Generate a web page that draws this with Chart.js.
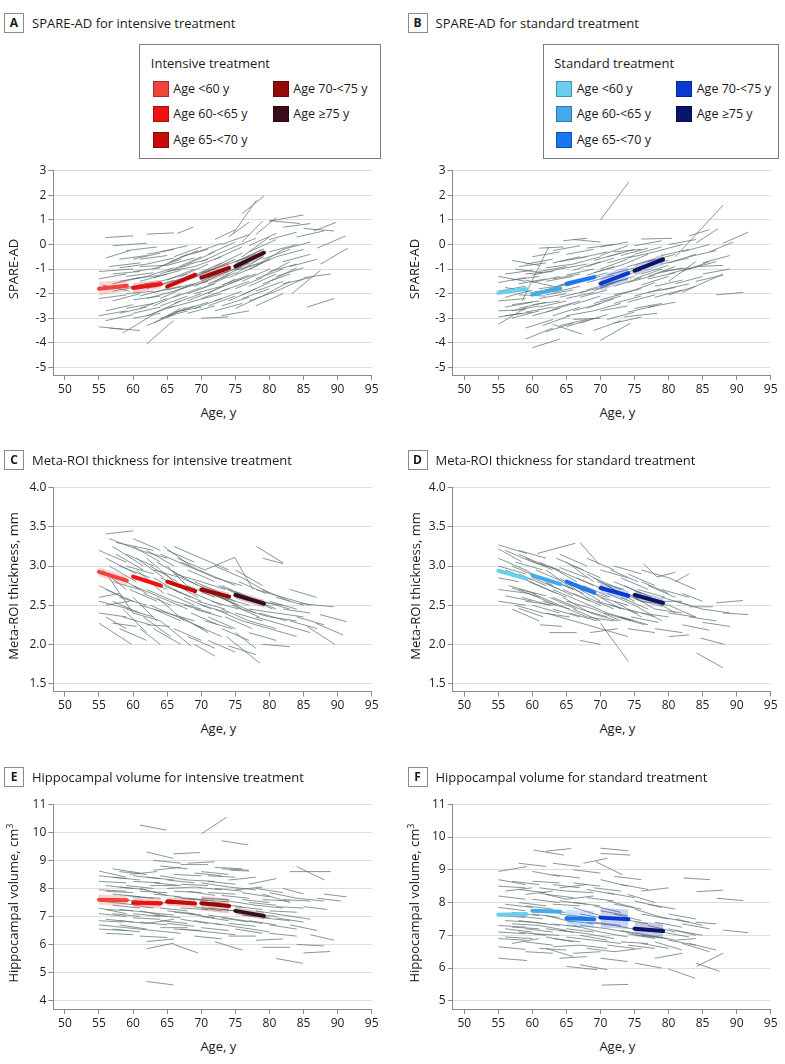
<!DOCTYPE html>
<html><head><meta charset="utf-8">
<script src="https://cdn.jsdelivr.net/npm/chart.js@4.4.0/dist/chart.umd.min.js"></script>
<style>
body{margin:0;background:#fff;}
#page{position:relative;width:785px;height:1064px;overflow:hidden;font-family:'Open Sans',sans-serif;color:#1a1a1a;}
canvas{position:absolute;z-index:1;}
.ptitle{position:absolute;font-size:13px;line-height:20px;white-space:nowrap;z-index:2;}
.pbox{position:absolute;width:18px;height:18px;border:1px solid #8a8a8a;font-weight:bold;font-size:12px;line-height:18px;text-align:center;z-index:2;}
.legend{position:absolute;border:1px solid #7a7a7a;box-sizing:border-box;background:#fff;z-index:3;}
.ltitle{position:absolute;font-size:13px;line-height:18px;white-space:nowrap;}
.sw{position:absolute;width:16px;height:16px;box-sizing:border-box;border:1px solid rgba(0,0,0,0.3);}
.ltxt{position:absolute;font-size:12.5px;line-height:16px;white-space:nowrap;}
.ytitle{position:absolute;width:240px;text-align:center;font-size:13px;line-height:16px;transform:rotate(-90deg);white-space:nowrap;z-index:2;}
.xtitle{position:absolute;width:120px;text-align:center;font-size:13px;line-height:16px;white-space:nowrap;z-index:2;}
</style></head>
<body><div id="page"></div>
<script>
// ---------- data ----------
const ageTicks=[50,55,60,65,70,75,80,85,90,95];
const spareTicks=[-5,-4,-3,-2,-1,0,1,2,3];
const thickTicks=[1.5,2.0,2.5,3.0,3.5,4.0];
const hippoTicksE=[4,5,6,7,8,9,10,11];
const hippoTicksF=[5,6,7,8,9,10,11];
const groupLabels=['Age <60 y','Age 60-<65 y','Age 65-<70 y','Age 70-<75 y','Age \u226575 y'];
const groupAges=[[55,59.1],[60,64.1],[65,69.1],[70,74.1],[75,79.2]];
const intensiveColors=['#f0443c','#f01212','#c80a0a','#940a0a','#3c0d18'];
const standardColors=['#6acfef','#44aaee','#1a76f2','#0a3ad0','#08156a'];

// fitted group lines [start value, end value] and CI half-widths [start, end]
const fitA=[[-1.8,-1.68],[-1.77,-1.61],[-1.71,-1.24],[-1.35,-0.95],[-0.89,-0.34]];
const ciA=[[0.28,0.22],[0.2,0.17],[0.12,0.12],[0.25,0.25],[0.18,0.2]];
const fitB=[[-1.97,-1.81],[-2.04,-1.78],[-1.6,-1.33],[-1.59,-1.17],[-1.06,-0.61]];
const ciB=[[0.08,0.08],[0.08,0.08],[0.1,0.1],[0.3,0.3],[0.22,0.22]];
const fitC=[[2.925,2.814],[2.865,2.75],[2.80,2.68],[2.70,2.61],[2.63,2.52]];
const ciC=[[0.06,0.06],[0.03,0.03],[0.03,0.03],[0.05,0.05],[0.05,0.05]];
const fitD=[[2.94,2.84],[2.88,2.77],[2.80,2.66],[2.72,2.62],[2.63,2.53]];
const ciD=[[0.02,0.02],[0.02,0.02],[0.03,0.03],[0.06,0.06],[0.06,0.06]];
const fitE=[[7.6,7.58],[7.49,7.47],[7.53,7.46],[7.47,7.37],[7.20,7.02]];
const ciE=[[0.18,0.18],[0.18,0.18],[0.15,0.15],[0.26,0.26],[0.13,0.13]];
const fitF=[[7.63,7.65],[7.75,7.72],[7.52,7.49],[7.54,7.49],[7.20,7.13]];
const ciF=[[0.05,0.05],[0.05,0.05],[0.25,0.25],[0.3,0.3],[0.23,0.23]];

// individual trajectories [age1, value1, age2, value2]
const segA=[[56,0.28,60,0.35],[62,0.42,66,0.47],[66.5,0.45,68.8,0.7],[57,-0.05,62,0.05],[56,-0.55,59.5,-0.25],[59,-0.25,63.5,-0.1],
[56.5,-0.9,61,-0.75],[55,-1.1,60,-1.0],[58,-0.6,62,-0.45],[62,-0.8,66,-0.55],[64,-0.3,68,-0.05],[65.5,-0.7,69.5,-0.25],[67,-0.5,71,-0.2],
[55,-2.9,59,-2.7],[55,-3.35,58.5,-3.45],[56.5,-3.4,61,-3.5],[62,-4.05,65.9,-3.1],[58.5,-3.6,63,-2.85],[56,-2.7,60,-2.45],[57,-2.3,61,-2.0],
[60,-3.0,64,-2.8],[63,-3.2,67,-2.6],[65,-2.9,69,-2.5],[70,-3.0,74,-2.95],[73,-2.9,77,-2.7],[65,-2.97,67.8,-2.56],[59,-2.6,63,-2.4],[60,-2.25,64,-2.1],
[74.7,0.45,78.1,1.8],[76,1.25,79.2,1.97],[80,0.95,85,1.2],[80,0.97,84.5,0.85],[82,0.7,86,0.85],[85,0.65,89.5,0.55],[86.5,0.55,89.8,0.9],
[87,-0.15,91.2,0.35],[83.3,-2.0,87.5,-1.05],[85,-1.35,89,-1.2],[85.5,-2.55,89.5,-2.2],[87.5,-0.8,91.5,-0.15],[84,0.3,88,0.55],[82,-0.7,86,-0.4],
[80,-1.5,84,-0.95],[78,-0.9,82,-0.2],[76,-0.5,80,0.3],[73,0.0,77,0.4],[71,-0.4,75,0.1],[75,-1.2,79,-0.5],[77,-1.7,81,-1.2],[79,-2.1,83,-1.5],
[76,-2.2,80,-1.8],[72,-2.3,76,-1.9],[74,-1.6,78,-1.2],[70,-1.8,74,-1.3],[68,-2.0,72,-1.6],[66,-1.9,70,-1.5],[64,-1.5,68,-1.2],[62,-1.8,66,-1.45],
[60,-1.4,64,-1.25],[61,-2.1,65,-1.8],[63,-2.5,67,-2.0],[66,-2.4,70,-2.0],[69,-2.6,73,-2.2],[71,-1.1,75,-0.6],[69,-0.9,73,-0.5],[67,-1.3,71,-0.8],
[65,-1.1,69,-0.9],[63,-1.0,67,-0.6],[61,-0.9,65,-0.85],[58,-1.5,62,-1.3],[57,-1.9,61,-1.7],[59,-2.0,63,-1.9],[64,-2.2,68,-1.7],[67,-1.5,71,-1.1],
[70,-0.7,74,-0.2],[72,-1.5,76,-0.9],[74,-0.8,78,-0.4],[77,-0.3,81,0.2],[79,-1.3,83,-0.7],[81,-1.9,85,-1.4],[78,-2.5,82,-2.0],[75,-2.6,79,-2.1],
[73,-1.9,77,-1.5],[71,-2.0,75,-1.4],[69,-1.7,73,-1.2],[68,-0.8,72,-0.3],[66,-0.5,70,-0.1],[64,-0.9,68,-0.4],[62,-1.3,66,-0.95],[60,-1.7,64,-1.5],
[57,-1.2,61,-1.1],[63,-1.75,67,-1.4],[65,-2.6,69,-2.3],[62,-2.9,66,-2.5],[72,-0.9,76,-0.35],[76,-1.0,80,-0.6],[80,0.2,84,0.5],[81,-0.5,85,-0.2],
[69,-2.3,73,-2.0],[74,-2.3,78,-1.8],[66,-1.0,70,-0.5],[70,-1.5,74,-1.0],
[55,-1.4,59,-1.2],[55,-2.2,59,-2.05],[55.5,-1.65,59.5,-1.9],[56,-3.1,60,-2.85],[57,-1.6,61,-1.35],[58,-2.8,62,-2.55],[58,-0.95,62,-0.8],
[59,-1.75,63,-1.55],[60,-0.6,64,-0.35],[60,-1.1,64,-0.95],[61,-2.6,65,-2.2],[61,-1.5,65,-1.2],[62,-2.2,66,-1.9],[62,-0.4,66,-0.2],[63,-1.95,67,-1.7],
[63,-2.8,67,-2.3],[64,-1.2,68,-0.85],[64,-2.5,68,-2.1],[65,-1.45,69,-1.0],[65,-0.85,69,-0.55],[66,-2.15,70,-1.75],[66,-1.6,70,-1.25],[67,-2.7,71,-2.35],
[67,-0.9,71,-0.6],[68,-1.4,72,-1.0],[68,-2.3,72,-1.85],[69,-1.25,73,-0.75],[69,-0.35,73,0.05],[70,-2.2,74,-1.8],[70,-1.15,74,-0.8],[71,-2.5,75,-2.1],
[71,-1.6,75,-1.15],[72,-0.6,76,-0.1],[72,-1.85,76,-1.4],[73,-1.2,77,-0.75],[73,-2.5,77,-2.15],[74,-0.2,78,0.25],[74,-1.35,78,-0.9],[75,-1.8,79,-1.35],
[75,-0.7,79,-0.2],[76,-1.5,80,-1.0],[76,-2.05,80,-1.55],[77,-1.0,81,-0.5],[77,-0.05,81,0.45],[78,-1.4,82,-1.0],[78,-1.9,82,-1.5],[79,-0.6,83,-0.2],
[79,-1.6,83,-1.2],[80,-1.1,84,-0.8],[80,-0.3,84,0.0],[81,-1.3,85,-0.95],[82,-0.2,86,0.1],[82,-1.6,86,-1.35],[83,-0.9,87,-0.6],[60,-2.8,64,-2.55],
[62,-3.3,66,-2.85],[64,-3.0,68,-2.7],[66,-2.75,70,-2.55],[68,-2.8,72,-2.5],[72,-2.7,76,-2.4],[59,-1.3,63,-1.15],[61,-0.6,65,-0.45],[63,-1.35,67,-1.05],
[65,-1.85,69,-1.6],[67,-1.8,71,-1.5],[69,-2.0,73,-1.7],[71,-1.35,75,-1.0],[73,-1.65,77,-1.25],[75,-1.05,79,-0.75],[77,-2.3,81,-1.9],[74,0.3,77,0.9],
[76,0.1,79,0.95],[78,0.4,81,1.1],[72,0.2,75,0.6]];
const segB=[[70,1.0,74.2,2.55],[81,-0.5,88,1.6],[84,0.05,87.3,0.65],[88,0.05,91.7,0.5],[87,-2.05,91,-1.95],[82,-1.95,88,-1.2],[76,0.22,80.5,0.25],
[80,0.0,84,0.2],[83,-0.5,87,-0.25],[84,-0.9,88,-0.85],[82,-1.1,86,-0.7],[85,-0.75,89,-0.45],[79,-0.8,83,-0.55],[77,-1.3,81,-0.9],[78,-1.7,82,-1.45],
[80,-1.5,84,-0.7],[74,-0.55,78,-0.3],[72,-0.3,76,-0.2],[70,-0.45,74,-0.05],[68,-0.15,72,0.0],[66,0.2,70,0.1],[64.5,0.15,68,0.25],[61,-0.15,64.6,-0.1],
[63,-0.25,67,-0.05],[58.5,-2.3,62.4,-0.1],[57,-0.65,61,-0.85],[55,-1.3,59,-1.5],[55,-1.55,59,-1.35],[56,-1.75,60,-1.95],[55,-2.7,59,-2.65],
[55,-3.25,59.2,-2.55],[55,-2.95,58.5,-2.8],[57,-2.45,61,-2.3],[59,-1.2,63,-1.1],[60,-1.55,64,-1.3],[62,-1.85,66,-1.5],[61,-2.2,65,-2.0],
[63,-2.6,67,-2.3],[60,-2.9,64,-2.6],[61.5,-3.3,65.5,-2.9],[60,-4.2,64,-3.85],[59,-3.85,63,-3.4],[63,-3.25,67.3,-3.65],[65,-2.9,69,-2.7],
[66,-3.05,70,-3.0],[70,-3.9,74.4,-3.2],[68,-2.6,72,-2.2],[70,-2.7,74,-2.5],[73.4,-2.95,78.3,-2.8],[75,-2.6,79,-2.4],[77,-2.55,81,-2.35],
[72,-2.05,76,-1.8],[74,-1.95,78,-1.55],[67,-1.95,71,-1.7],[65,-1.7,69,-1.35],[66,-1.05,70,-0.7],[68,-1.25,72,-0.9],[70,-1.0,74,-0.6],
[72,-1.4,76,-1.05],[64,-0.7,68,-0.5],[62,-0.95,66,-0.8],[59,-0.8,63,-0.6],[57.5,-1.0,61.5,-1.15],[63,-1.4,67,-1.2],[69,-1.9,73,-1.45],
[71,-1.6,75,-1.3],[75,-1.4,79,-1.0],[76,-0.9,80,-0.65],[78,-0.3,82,0.0],[73,-0.85,77,-0.4],[67,-0.55,71,-0.3],[61,-1.8,65,-1.65],[58,-2.05,62,-2.1],
[64,-2.15,68,-1.9],[66,-2.45,70,-2.1],[69,-2.4,73,-2.1],[71,-3.05,75,-2.75],[64,-3.3,68,-3.05],[62,-2.75,66,-2.4],[57,-2.7,61,-2.5],[56,-2.15,60,-1.85],
[60,-2.45,64,-2.3],[77,-1.95,81,-1.75],[80,-2.05,84,-1.7],[85,-1.2,89,-1.0],[86,-0.3,89.5,0.1],[83,0.35,86,0.6],[79,-1.1,83,-0.95],[74,-2.35,78,-2.05],
[68,-1.55,72,-1.25],[58,-1.6,62,-1.4],[65,-0.4,69,-0.2],[71,-0.75,75,-0.45],
[55,-1.9,59,-1.7],[55,-2.3,59,-2.2],[56,-1.2,60,-1.05],[56,-2.55,60,-2.35],[57,-1.45,61,-1.3],[57,-3.0,61,-2.7],[58,-2.6,62,-2.35],[58,-0.9,62,-0.75],
[59,-1.45,63,-1.7],[59,-2.75,63,-2.55],[60,-1.95,64,-1.75],[60,-0.5,64,-0.3],[61,-1.1,65,-0.9],[61,-2.55,65,-2.3],[62,-2.05,66,-1.85],[62,-1.5,66,-1.3],
[63,-0.75,67,-0.5],[63,-2.9,67,-2.55],[64,-1.65,68,-1.4],[64,-1.0,68,-0.8],[65,-2.2,69,-1.95],[65,-1.25,69,-1.0],[66,-0.8,70,-0.5],[66,-2.7,70,-2.4],
[67,-1.45,71,-1.15],[67,-2.15,71,-1.85],[68,-0.9,72,-0.55],[68,-1.85,72,-1.55],[69,-1.15,73,-0.85],[69,-2.7,73,-2.4],[70,-1.7,74,-1.4],[70,-2.25,74,-1.95],
[71,-0.5,75,-0.2],[71,-1.25,75,-0.95],[72,-1.7,76,-1.35],[72,-2.4,76,-2.1],[73,-1.2,77,-0.9],[73,-0.45,77,-0.15],[74,-1.55,78,-1.25],[74,-0.9,78,-0.6],
[75,-2.1,79,-1.8],[75,-0.4,79,-0.1],[76,-1.2,80,-0.85],[76,-1.65,80,-1.3],[77,-0.7,81,-0.4],[78,-2.15,82,-1.85],[78,-1.2,82,-0.95],[79,-0.45,83,-0.2],
[80,-1.2,84,-0.9],[80,-0.75,84,-0.4],[81,-1.6,85,-1.3],[82,-0.3,86,0.0],[83,-1.0,87,-0.7],[84,-1.5,88,-1.25],[59,-3.4,63,-3.05],[62,-3.55,66,-3.2],
[65,-3.35,69,-3.0],[67,-3.2,71,-2.85],[72,-3.2,76,-2.95],[69,-3.5,73,-3.1],[56,-2.9,60,-2.75],[60,-1.25,64,-1.0],[63,-1.95,67,-1.7],[66,-1.55,70,-1.3],
[69,-0.65,73,-0.35],[74,-2.75,78,-2.5],[77,-1.4,81,-1.15],[79,-1.85,83,-1.6],[75,-0.05,79,0.15],[70,-0.1,74,0.1]];
const segC=[[56,3.41,60,3.45],[57.5,3.3,63,3.2],[56.5,3.35,61,3.2],[55,2.27,59.8,2.0],[57,2.27,60.5,2.23],[62,2.25,65.4,2.23],[73.7,2.1,78.6,1.76],
[74,1.98,78,1.87],[78.1,3.25,82,3.04],[79,3.1,82,3.03],[83,2.7,86.9,2.6],[84.5,2.52,89.4,2.48],[85.5,2.23,89.6,2.0],[87.4,2.38,91.3,2.29],
[86.8,2.27,90.8,2.12],[79,2.0,83,1.97],[55,2.75,58.5,2.6],[55.5,2.95,59,2.7],[56,3.1,60.5,2.9],[55,2.55,59.5,2.45],[56.5,2.85,60,2.4],[58,2.6,62,2.5],
[59,3.0,63,2.9],[60,3.25,64,3.05],[61,3.2,65,3.1],[62,3.1,66,2.8],[60,2.75,64,2.6],[61,2.5,65,2.4],[63,2.95,67,2.85],[64,3.15,68,3.0],[65,2.65,69,2.5],
[66,2.9,70,2.8],[67,3.05,71,2.9],[68,2.75,72,2.6],[69,2.45,73,2.35],[70.5,2.95,74.9,3.11],[74.9,3.11,77.6,2.7],[71,2.7,75,2.55],[72,2.85,76,2.75],
[73,2.45,77,2.3],[75,2.65,79,2.55],[76,2.45,80,2.35],[77,2.6,81,2.45],[78,2.35,82,2.25],[80,2.55,84,2.45],[81,2.4,85,2.35],[82,2.25,86,2.15],
[80,2.2,84,2.1],[57,2.8,61,2.7],[59,2.45,63,2.35],[62,2.7,66,2.55],[63,2.45,67,2.3],[64,2.85,68,2.7],[65,3.0,69,2.65],[66,2.55,70,2.45],[67,2.35,71,2.15],
[68,2.95,72,2.8],[69,2.65,73,2.5],[70,2.5,74,2.4],[71,2.35,75,2.2],[72,2.65,76,2.45],[73,2.75,77,2.6],[74,2.55,78,2.4],[76,2.85,80,2.65],[77,2.3,81,2.2],
[79,2.7,83,2.55],[60.5,2.95,64.5,2.65],[58,3.0,62.5,2.85],[57,3.25,61.5,3.0],[63.5,2.6,67.5,2.3],[65.5,2.8,69.5,2.6],[67.5,2.5,71.5,2.4],
[61.5,2.35,65.5,2.1],[64,2.3,68.5,1.98],[66,2.2,70,2.05],[69,2.25,73,2.1],[71,2.05,75,1.9],[62.5,3.0,66.5,2.8],[60,2.6,63.5,2.3],[58.5,2.45,62,2.15],
[55,2.6,58,2.65],[56,2.5,59.5,2.55],[75,2.95,79,2.75],[82,2.6,86,2.5],[84,2.35,88,2.25],[78,2.55,82,2.5],[64.5,3.25,68.5,3.0],[66.5,3.1,70.5,2.95],
[70,2.8,73.5,2.7],[71.5,2.55,75.5,2.45],
[55,3.2,59,3.05],[55,2.4,59,2.35],[56,2.7,60,2.55],[56.5,3.0,60.5,2.8],[57,2.55,61,2.4],[57.5,3.15,61.5,2.95],[58,2.85,62,2.65],[58.5,2.35,62.5,2.25],
[59,3.15,63,3.0],[59.5,2.7,63.5,2.55],[60,2.4,64,2.3],[60.5,3.1,64.5,2.85],[61,2.85,65,2.7],[61.5,2.65,65.5,2.5],[62,3.2,66,3.0],[62.5,2.5,66.5,2.35],
[63,2.85,67,2.65],[63.5,3.05,67.5,2.85],[64,2.6,68,2.45],[64.5,2.75,68.5,2.6],[65,2.4,69,2.3],[65.5,2.95,69.5,2.75],[66,2.7,70,2.55],[66.5,2.35,70.5,2.2],
[67,2.85,71,2.7],[67.5,2.6,71.5,2.45],[68,3.0,72,2.85],[68.5,2.4,72.5,2.25],[69,2.8,73,2.65],[69.5,2.55,73.5,2.45],[70,2.7,74,2.55],[70.5,2.3,74.5,2.2],
[71,2.9,75,2.75],[71.5,2.65,75.5,2.5],[72,2.45,76,2.3],[72.5,2.75,76.5,2.6],[73,2.6,77,2.5],[73.5,2.35,77.5,2.2],[74,2.7,78,2.55],[74.5,2.5,78.5,2.35],
[75,2.4,79,2.3],[75.5,2.8,79.5,2.65],[76,2.3,80,2.2],[76.5,2.6,80.5,2.45],[77,2.45,81,2.4],[78,2.7,82,2.6],[78.5,2.4,82.5,2.3],[79,2.55,83,2.45],
[80,2.35,84,2.3],[81,2.6,85,2.5],[82,2.45,86,2.4],[83,2.3,87,2.2],[58,2.2,62,2.05],[63,2.2,67,2.0],[68,2.1,72,1.95],[73,2.2,77,2.05],[77,2.15,81,2.05],
[60,3.35,64,3.2],[65,3.2,69,3.05],[70,3.1,74,2.95],[56,2.35,59,2.2],[66,3.25,70,3.1],[72,3.0,76,2.85],[61,2.2,64,2.0],[69,2.0,72,1.85],[75,2.15,78,1.95]];
const segD=[[55,3.27,59.2,3.16],[55,3.22,58.5,3.05],[60.7,3.16,66.3,3.29],[67,3.3,69.8,3.02],[70,2.27,74.1,1.78],[84.1,1.89,88,1.7],[88,2.4,91.7,2.38],
[87,2.53,90.9,2.56],[83,2.48,86.5,2.48],[85,2.28,89,2.23],[84.7,2.08,88.2,2.0],[82,2.25,86,2.18],[80,2.1,83,2.12],[61.1,2.25,64.3,2.23],
[62.5,2.15,66.5,2.15],[58,2.46,61.6,2.35],[76.3,3.03,78.3,2.86],[78.3,2.86,81,2.92],[55,3.0,59,2.9],[55,2.85,58,2.8],[55,2.7,59.5,2.65],
[56,2.62,60,2.55],[57,2.9,61,2.75],[58,3.15,62,3.0],[59,2.95,63,2.75],[59.5,2.65,63.5,2.5],[60,2.85,64,2.7],[61,3.05,65,2.9],[62,2.95,66,2.7],
[62.5,2.6,66.5,2.45],[63,2.45,67,2.35],[64,2.85,68,2.6],[65,3.05,69,2.8],[66,2.75,70,2.55],[67,2.55,71,2.4],[68,2.9,72,2.7],[69,2.65,73,2.45],
[70,2.95,74,2.85],[71,2.75,75,2.55],[72,2.55,76,2.35],[73,2.85,77,2.7],[74,2.65,78,2.45],[75,2.5,79,2.3],[76,2.8,80,2.65],[77,2.6,81,2.4],
[79,2.7,83,2.6],[80,2.5,84,2.35],[81,2.8,83,2.9],[57,2.72,61,2.6],[60,2.5,64,2.4],[63,2.7,67,2.55],[65,2.55,69,2.45],[66,2.45,70,2.3],
[68,2.35,72,2.3],[69,2.45,73,2.3],[71,2.4,75,2.3],[73,2.35,77,2.25],[58,2.7,62,2.62],[62,2.78,66,2.62],[64,2.98,68,2.85],[67,2.7,71,2.6],
[70,2.6,74,2.5],[72,2.8,76,2.65],[74,2.9,78,2.75],[66,3.0,70,2.85],[60,3.05,64,2.95],[56,2.95,60,2.82],[61.5,2.4,65.5,2.35],[74.5,2.35,78.5,2.28],
[76,2.55,80,2.5],[78,2.55,82,2.55],[82,2.65,85,2.55],[68.5,2.15,72.5,2.2],[64.5,2.6,68.5,2.4],[59,2.55,63,2.5],[63.5,3.1,67.5,2.95],
[71.5,2.95,75.5,2.8],[75.5,2.7,79.5,2.6],[69.5,2.8,73.5,2.7],[57.5,3.05,61.5,2.95],
[55,3.1,59,2.95],[55,2.55,59,2.5],[56,3.2,60,3.05],[56.5,2.75,60.5,2.65],[57,3.0,61,2.85],[57.5,2.5,61.5,2.4],[58,2.9,62,2.75],[58.5,2.6,62.5,2.5],
[59,3.1,63,2.95],[59.5,2.8,63.5,2.65],[60,2.65,64,2.5],[60.5,2.95,64.5,2.8],[61,2.75,65,2.6],[61.5,2.55,65.5,2.45],[62,2.85,66,2.7],[62.5,3.0,66.5,2.8],
[63,2.6,67,2.45],[63.5,2.8,67.5,2.65],[64,2.5,68,2.35],[64.5,2.7,68.5,2.55],[65,2.9,69,2.75],[65.5,2.4,69.5,2.3],[66,2.65,70,2.5],[66.5,2.85,70.5,2.7],
[67,2.45,71,2.35],[67.5,2.75,71.5,2.6],[68,2.6,72,2.45],[68.5,2.4,72.5,2.3],[69,2.85,73,2.7],[69.5,2.55,73.5,2.45],[70,2.75,74,2.6],[70.5,2.4,74.5,2.3],
[71,2.65,75,2.5],[71.5,2.5,75.5,2.4],[72,2.7,76,2.55],[72.5,2.35,76.5,2.25],[73,2.6,77,2.45],[73.5,2.75,77.5,2.6],[74,2.45,78,2.35],[75,2.65,79,2.55],
[76,2.4,80,2.35],[77,2.75,81,2.6],[78,2.45,82,2.4],[79,2.6,83,2.5],[80,2.4,84,2.35],[81,2.55,85,2.45],[83,2.35,87,2.3],[85,2.45,89,2.4],
[57,2.45,61,2.3],[62,2.4,66,2.3],[66,2.3,70,2.2],[70,2.2,74,2.1],[74,2.2,78,2.15],[78,2.2,82,2.15],[64,3.15,68,3.0],[68,3.1,72,2.95],[72,3.0,76,2.9],
[58,3.2,62,3.1],[67,2.05,70,2.0],[76,2.95,80,2.85],[80,2.85,84,2.7]];
const segE=[[61,10.26,64.9,10.08],[70,9.94,73.7,10.54],[73,9.7,76.9,9.55],[62,9.3,65.9,9.07],[65.9,9.23,69.8,9.28],[62,4.68,65.9,4.56],
[84,8.78,88.1,8.3],[83,8.6,89,8.6],[88,7.8,91.3,7.7],[87,7.65,90.5,7.55],[86,6.35,89.5,6.15],[81,5.5,84.9,5.33],[85,5.7,88.9,5.75],[79,5.9,83,5.9],
[84,6.0,88,5.95],[85,7.35,88.5,7.25],[55,8.62,59,8.4],[57,8.7,61,8.55],[55,8.25,59,8.2],[56,7.9,60,7.85],[55,7.3,59,7.1],[55,6.55,59,6.5],
[56,6.4,60,6.35],[55,6.85,58.5,6.8],[57,7.1,61,7.0],[58,8.05,62,7.95],[60,8.25,64,8.2],[61,8.0,65,7.75],[59,7.45,63,7.3],[60,6.95,64,6.9],
[62,6.75,66,6.9],[61,6.3,65,6.25],[62,6.1,66,6.2],[62,5.85,66,6.05],[63,8.65,67,8.75],[64,8.45,68,8.3],[65,8.0,69,8.05],[66,7.7,70,7.6],
[65,7.2,69,7.1],[67,6.9,71,6.75],[66,6.55,70,6.5],[66,6.0,69.5,5.7],[68,8.9,72,8.95],[69,8.55,73,8.45],[70,8.2,74,8.05],[71,7.85,75,7.8],
[69,7.35,73,7.2],[71,7.05,75,6.9],[70,6.6,74,6.5],[72,6.1,76,5.8],[72,6.75,76,6.6],[73,8.7,77,8.65],[74,8.3,78,8.4],[75,7.95,79,8.05],
[76,7.6,80,7.5],[74,7.55,78,7.4],[77,7.1,81,7.0],[76,6.6,80,6.45],[78,6.15,82,6.2],[77,8.15,81,8.35],[79,7.8,83,7.5],[80,7.2,84,7.15],
[80,6.7,84,6.55],[81,6.95,85,6.8],[82,7.6,86,7.55],[82,8.0,85,7.8],[58,6.7,62,6.55],[64,7.5,68,7.45],[63,7.05,67,6.95],[68,7.65,72,7.55],
[73,7.25,77,7.15],[67,8.15,71,8.1],[70,7.45,74,7.55],[75,6.9,79,6.75],[78,7.4,82,7.3],[57.5,7.6,61.5,7.55],[59.5,8.5,63.5,8.6],[62.5,8.1,66.5,8.1],
[64,6.6,68,6.6],[69,6.3,73,6.2],[74,6.3,78,6.3],[60,7.7,64,7.65],[67,7.3,71,7.25],[61,7.2,65,7.0],[71,8.45,75,8.4],[74.2,8.65,77,8.62],
[55,8.45,59,8.35],[55,7.95,59,7.9],[55,7.55,59,7.45],[55,7.1,59,7.0],[55,6.7,59,6.6],[56,8.1,60,8.0],[56,7.25,60,7.2],[56,6.9,60,6.8],[57,8.4,61,8.3],
[57,7.8,61,7.7],[57,7.4,61,7.3],[57,6.55,61,6.45],[58,8.6,62,8.5],[58,7.25,62,7.15],[58,6.85,62,6.75],[59,8.1,63,8.0],[59,7.75,63,7.65],[59,6.6,63,6.5],
[60,8.45,64,8.35],[60,7.45,64,7.4],[60,7.1,64,7.0],[61,7.9,65,7.85],[61,6.8,65,6.7],[62,8.4,66,8.3],[62,7.55,66,7.45],[62,7.15,66,7.05],[63,8.2,67,8.1],
[63,7.8,67,7.7],[63,6.5,67,6.4],[64,8.8,68,8.7],[64,7.3,68,7.2],[64,6.85,68,6.75],[65,8.3,69,8.2],[65,7.6,69,7.5],[65,6.75,69,6.65],[66,8.5,70,8.45],
[66,7.9,70,7.85],[66,7.15,70,7.05],[67,7.65,71,7.55],[67,6.55,71,6.45],[68,8.3,72,8.25],[68,7.9,72,7.75],[68,7.1,72,6.95],[69,8.05,73,7.95],
[69,6.85,73,6.7],[70,8.6,74,8.5],[70,7.65,74,7.6],[70,7.0,74,6.85],[71,8.25,75,8.15],[71,7.3,75,7.2],[71,6.45,75,6.35],[72,8.0,76,7.9],[72,7.45,76,7.35],
[73,7.75,77,7.65],[73,6.95,77,6.8],[74,8.05,78,7.95],[74,6.75,78,6.65],[75,7.35,79,7.25],[75,6.55,79,6.4],[76,7.85,80,7.7],[76,7.05,80,6.95],
[77,7.5,81,7.4],[77,6.85,81,6.7],[78,8.0,82,7.85],[78,7.2,82,7.05],[79,6.95,83,6.85],[79,7.6,83,7.55],[80,7.85,84,7.65],[80,6.4,84,6.3],[81,7.35,85,7.3],
[82,7.05,86,6.9],[83,6.7,87,6.5],[84,7.65,88,7.55],[67,8.85,71,8.85],[63,9.0,67,8.9],[72,8.75,76,8.7]];
const segF=[[60.2,9.6,64.6,9.45],[62,9.57,65.7,9.65],[70,9.66,74.1,9.58],[70,9.5,74.4,9.45],[67.5,9.2,71,9.35],[69.3,9.25,73.2,8.85],
[55,8.95,59.2,9.1],[58,9.2,62,9.1],[82.2,8.75,86.1,8.7],[84.1,8.33,88,8.38],[87.1,8.13,91,8.06],[88,7.16,91.7,7.08],[84,7.4,87,7.35],
[84.1,6.05,88,6.45],[84,6.15,87.5,5.9],[70.2,5.48,74.1,5.5],[65,6.05,69.5,5.95],[55,6.3,59.2,6.23],[55,6.65,59,6.57],[75.1,6.15,79,6.0],
[80,5.97,83.9,5.69],[55,8.7,59,8.55],[56,8.35,60,8.45],[55,7.85,59,7.75],[56,7.45,60,7.4],[55,7.1,59,7.05],[55,6.9,59,6.85],[57,7.25,61,7.2],
[58,8.0,62,7.9],[60,8.65,64,8.6],[61,8.3,65,8.1],[60,7.65,64,7.55],[61,7.3,65,7.15],[62,6.95,66,6.8],[63,6.65,67,6.7],[64,6.3,68,6.35],
[63,8.85,67,8.75],[64,8.45,68,8.55],[65,8.1,69,8.2],[66,7.85,70,7.6],[66,7.3,70,7.1],[67,7.0,71,6.85],[68,6.6,72,6.5],[68,8.4,72,8.25],
[70,8.7,74,8.5],[71,8.05,75,7.85],[72,7.65,76,7.45],[71,7.2,75,7.05],[73,6.8,77,6.75],[70,6.3,74,6.2],[74,8.25,78,8.0],[75,7.8,79,7.55],
[76,8.35,80,8.45],[77,7.3,81,7.1],[78,6.8,82,6.55],[79,7.55,83,7.4],[80,7.2,84,7.0],[81,7.5,85,7.3],[82,6.75,86,6.5],[76,7.0,80,6.9],
[57,6.75,61,6.9],[59,6.5,63,6.45],[62,7.6,66,7.4],[63,7.95,67,7.9],[65,7.45,69,7.35],[67,7.65,71,7.5],[69,7.9,73,7.7],[73,7.15,77,7.0],
[57.5,7.6,61.5,7.5],[59,8.25,63,8.35],[66,6.45,70,6.5],[72,6.5,76,6.6],[74,6.7,78,6.6],[78,6.3,82,6.45],[81,6.85,84,6.9],[62,6.6,66,6.35],
[67,6.1,71,5.95],[60,7.05,64,7.0],[64,7.15,68,7.05],[69,7.4,73,7.3],
[55,8.5,59,8.45],[55,8.2,59,8.1],[55,7.6,59,7.55],[55,7.3,59,7.25],[56,7.95,60,7.85],[56,7.2,60,7.1],[56,6.95,60,6.9],[57,8.65,61,8.55],[57,7.7,61,7.6],
[57,7.35,61,7.3],[58,8.4,62,8.3],[58,7.45,62,7.35],[58,7.1,62,7.0],[59,7.9,63,7.8],[59,7.2,63,7.1],[59,6.8,63,6.7],[60,8.1,64,8.0],[60,7.4,64,7.3],
[61,8.45,65,8.35],[61,7.75,65,7.7],[61,6.6,65,6.55],[62,8.25,66,8.15],[62,7.2,66,7.1],[63,8.55,67,8.45],[63,7.35,67,7.25],[63,6.9,67,6.8],
[64,8.05,68,7.95],[64,7.65,68,7.55],[65,8.35,69,8.3],[65,6.95,69,6.85],[65,7.2,69,7.1],[66,8.6,70,8.5],[66,8.0,70,7.9],[67,7.3,71,7.2],[67,6.7,71,6.6],
[68,8.15,72,8.05],[68,7.4,72,7.3],[68,7.05,72,6.9],[69,8.45,73,8.35],[69,6.85,73,6.75],[70,7.75,74,7.6],[70,7.1,74,6.95],[71,8.3,75,8.15],
[71,6.7,75,6.6],[72,7.95,76,7.8],[72,7.3,76,7.15],[73,8.55,77,8.4],[73,7.5,77,7.35],[74,7.05,78,6.9],[75,8.05,79,7.85],[75,7.25,79,7.1],
[76,7.65,80,7.5],[76,6.75,80,6.6],[77,7.95,81,7.8],[77,7.0,81,6.85],[78,7.4,82,7.25],[79,7.1,83,6.95],[80,7.65,84,7.5],[80,6.85,84,6.7],
[81,7.15,85,7.0],[82,7.35,86,7.2],[83,6.75,87,6.55],[63,9.2,67,9.1],[66,9.0,70,8.9],[60,8.95,64,8.8],[72,8.8,76,8.7]];

// ---------- layout ----------
const panels=[
 {key:'A',title:'SPARE-AD for intensive treatment',ytitle:'SPARE-AD',left:0,top:150,w:390,yW:53.3,padR:18.3,padT:20.7,xH:25,yMin:-5.31,yMax:3,ticks:spareTicks,dec:false,seg:segA,fit:fitA,ci:ciA,colors:intensiveColors,boxX:4,titleY:23.3,ytx:13.3,yty:268.7,xtx:218.3,xty:411.7},
 {key:'B',title:'SPARE-AD for standard treatment',ytitle:'SPARE-AD',left:400,top:150,w:385,yW:52.7,padR:14.3,padT:20.7,xH:25,yMin:-5.31,yMax:3,ticks:spareTicks,dec:false,seg:segB,fit:fitB,ci:ciB,colors:standardColors,boxX:407.5,titleY:23.3,ytx:413.5,yty:268.7,xtx:617.3,xty:411.7},
 {key:'C',title:'Meta-ROI thickness for intensive treatment',ytitle:'Meta-ROI thickness, mm',left:0,top:467,w:390,yW:53.3,padR:18.3,padT:20.7,xH:25.5,yMin:1.398,yMax:4,ticks:thickTicks,dec:true,seg:segC,fit:fitC,ci:ciC,colors:intensiveColors,boxX:4,titleY:460,ytx:13.3,yty:585.6,xtx:218.3,xty:728.3},
 {key:'D',title:'Meta-ROI thickness for standard treatment',ytitle:'Meta-ROI thickness, mm',left:400,top:467,w:385,yW:52.7,padR:14.3,padT:20.7,xH:25.5,yMin:1.398,yMax:4,ticks:thickTicks,dec:true,seg:segD,fit:fitD,ci:ciD,colors:standardColors,boxX:407.5,titleY:460,ytx:414.5,yty:585.6,xtx:617.3,xty:728.3},
 {key:'E',title:'Hippocampal volume for intensive treatment',ytitle:'Hippocampal volume, cm<sup style="font-size:9px;line-height:0">3</sup>',left:0,top:784,w:390,yW:53.3,padR:18.3,padT:20.3,xH:25,yMin:3.70,yMax:11,ticks:hippoTicksE,dec:false,seg:segE,fit:fitE,ci:ciE,colors:intensiveColors,boxX:4,titleY:776.7,ytx:12.7,yty:902.5,xtx:218.3,xty:1045.7},
 {key:'F',title:'Hippocampal volume for standard treatment',ytitle:'Hippocampal volume, cm<sup style="font-size:9px;line-height:0">3</sup>',left:400,top:784,w:385,yW:52.7,padR:14.3,padT:20.3,xH:25,yMin:4.75,yMax:11,ticks:hippoTicksF,dec:false,seg:segF,fit:fitF,ci:ciF,colors:standardColors,boxX:407.5,titleY:776.7,ytx:414,yty:902.5,xtx:617.3,xty:1045.7}
];
const legends=[
 {left:139.3,top:44,w:241.5,h:115,title:'Intensive treatment',colors:intensiveColors},
 {left:542.7,top:44.3,w:236,h:115,title:'Standard treatment',colors:standardColors}
];

const page=document.getElementById('page');
function el(tag,cls,style,html){const e=document.createElement(tag);if(cls)e.className=cls;Object.assign(e.style,style);if(html!==undefined)e.innerHTML=html;page.appendChild(e);return e;}
function rgba(hex,a){const n=parseInt(hex.slice(1),16);return 'rgba('+(n>>16)+','+((n>>8)&255)+','+(n&255)+','+a+')';}

function build(){
 Chart.defaults.font.family="'Open Sans', sans-serif";
 panels.forEach(p=>{
  el('div','pbox',{left:p.boxX+'px',top:(p.titleY-10)+'px'},p.key);
  el('div','ptitle',{left:(p.boxX+28)+'px',top:(p.titleY-10)+'px'},p.title);
  el('div','ytitle',{left:(p.ytx-120)+'px',top:(p.yty-8)+'px'},p.ytitle);
  el('div','xtitle',{left:(p.xtx-60)+'px',top:(p.xty-8)+'px'},'Age, y');
  const cv=document.createElement('canvas');cv.width=p.w;cv.height=250;
  cv.style.left=p.left+'px';cv.style.top=p.top+'px';page.appendChild(cv);
  const ds=[];
  p.fit.forEach((f,i)=>{const a=groupAges[i];
   ds.push({data:[{x:a[0],y:f[0]},{x:a[1],y:f[1]}],borderColor:p.colors[i],borderWidth:4,borderCapStyle:'round',pointRadius:0,fill:false,order:0});});
  p.fit.forEach((f,i)=>{const a=groupAges[i],c=p.ci[i];
   ds.push({data:[{x:a[0],y:f[0]-c[0]},{x:a[1],y:f[1]-c[1]}],borderColor:'rgba(0,0,0,0)',borderWidth:1,pointRadius:0,fill:false,order:1});
   ds.push({data:[{x:a[0],y:f[0]+c[0]},{x:a[1],y:f[1]+c[1]}],borderColor:'rgba(0,0,0,0)',borderWidth:1,pointRadius:0,fill:'-1',backgroundColor:rgba(p.colors[i],0.22),order:1});});
  const sp=[];p.seg.forEach(s=>{sp.push({x:s[0],y:s[1]},{x:s[2],y:s[3]},{x:s[2],y:null});});
  ds.push({data:sp,borderColor:'rgba(95,115,115,0.74)',borderWidth:1,pointRadius:0,spanGaps:false,fill:false,order:2});
  const tickFont={family:"'Open Sans', sans-serif",size:12};
  new Chart(cv,{type:'line',data:{datasets:ds},options:{
   responsive:false,animation:false,devicePixelRatio:1,events:[],
   layout:{padding:{left:0,top:p.padT,right:p.padR,bottom:0}},
   plugins:{legend:{display:false},tooltip:{enabled:false}},
   elements:{point:{radius:0},line:{tension:0}},
   scales:{
    x:{type:'linear',min:48.3,max:95,
     afterBuildTicks:s=>{s.ticks=ageTicks.map(v=>({value:v}));},
     afterFit:s=>{s.height=p.xH;},
     ticks:{font:tickFont,color:'#222',padding:2,autoSkip:false,maxRotation:0,callback:v=>String(v)},
     grid:{drawOnChartArea:false,drawTicks:true,tickLength:5,tickColor:'#8a8a8a'},
     border:{display:true,color:'#8a8a8a',width:1}},
    y:{type:'linear',min:p.yMin,max:p.yMax,
     afterBuildTicks:s=>{s.ticks=p.ticks.map(v=>({value:v}));},
     afterFit:s=>{s.width=p.yW;},
     ticks:{font:tickFont,color:'#222',padding:2,autoSkip:false,callback:v=>p.dec?Number(v).toFixed(1):String(v)},
     grid:{color:'#dcdcdc',drawTicks:true,tickLength:5,tickColor:'#8a8a8a'},
     border:{display:true,color:'#8a8a8a',width:1}}
   }}});
 });
 legends.forEach(L=>{
  const b=document.createElement('div');b.className='legend';
  Object.assign(b.style,{left:L.left+'px',top:L.top+'px',width:L.w+'px',height:L.h+'px'});
  page.appendChild(b);
  const t=document.createElement('div');t.className='ltitle';t.style.left='10.5px';t.style.top='9px';t.textContent=L.title;b.appendChild(t);
  const pos=[[0,0],[0,1],[0,2],[1,0],[1,1]];
  groupLabels.forEach((lab,i)=>{
   const col=pos[i][0],row=pos[i][1];
   const cy=[43.5,68.8,94.7][row];
   const sx=col?132.7:12.5, tx=col?153:33;
   const s=document.createElement('div');s.className='sw';s.style.left=sx+'px';s.style.top=(cy-8)+'px';s.style.background=L.colors[i];b.appendChild(s);
   const tt=document.createElement('div');tt.className='ltxt';tt.style.left=tx+'px';tt.style.top=(cy-8)+'px';tt.textContent=lab;b.appendChild(tt);
  });
 });
}
let done=false;
function go(){if(done)return;done=true;build();}
if(document.fonts&&document.fonts.load){Promise.all([document.fonts.load("12px 'Open Sans'"),document.fonts.load("bold 12px 'Open Sans'")]).then(go,go);setTimeout(go,300);}else go();
</script></body></html>
